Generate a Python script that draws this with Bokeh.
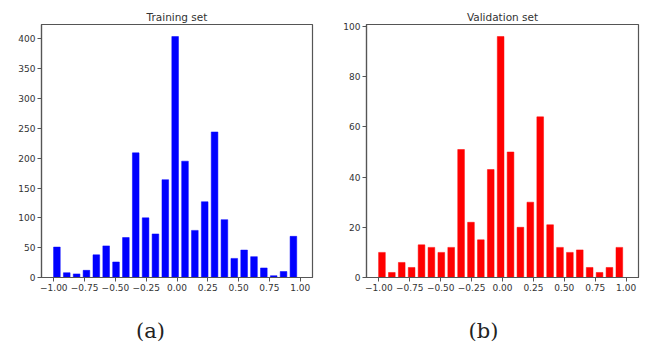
from bokeh.plotting import figure
from bokeh.layouts import column, row
from bokeh.models import Range1d, FixedTicker, ColumnDataSource
from bokeh.core.properties import value
from bokeh.embed import file_html
from bokeh.resources import INLINE

# ---- data ----
bin_centers = [-0.975, -0.895, -0.815, -0.735, -0.655, -0.575, -0.495, -0.415,
               -0.335, -0.255, -0.175, -0.095, -0.015, 0.065, 0.145, 0.225,
               0.305, 0.385, 0.465, 0.545, 0.625, 0.705, 0.785, 0.865, 0.945]
train_counts = [51, 8, 6, 12, 38, 53, 26, 67, 209, 100, 73, 164, 404, 195,
                79, 127, 244, 97, 32, 46, 35, 16, 3, 10, 69]
val_counts = [10, 2, 6, 4, 13, 12, 10, 12, 51, 22, 15, 43, 96, 50,
              20, 30, 64, 21, 12, 10, 11, 4, 2, 4, 12]
x_ticks = [-1.0, -0.75, -0.5, -0.25, 0.0, 0.25, 0.5, 0.75, 1.0]
x_tick_labels = ["\u22121.00", "\u22120.75", "\u22120.50", "\u22120.25", "0.00",
                 "0.25", "0.50", "0.75", "1.00"]
train_y_ticks = [0, 50, 100, 150, 200, 250, 300, 350, 400]
val_y_ticks = [0, 20, 40, 60, 80, 100]
titles = ["Training set", "Validation set"]
panel_labels = ["(a)", "(b)"]

BAR_W = 0.054
FONT = "DejaVu Sans"


def make_hist(title, counts, color, yticks, width, height, bl, br, bt, bb):
    src = ColumnDataSource(dict(x=bin_centers, top=counts))
    p = figure(width=width, height=height, output_backend="svg",
               toolbar_location=None, title=title,
               x_range=Range1d(-1.1, 1.1),
               y_range=Range1d(0, max(counts) * 1.05),
               min_border_left=bl, min_border_right=br,
               min_border_top=bt, min_border_bottom=bb)
    p.vbar(x="x", top="top", bottom=0, width=BAR_W, source=src,
           fill_color=color, line_color=color, line_width=0.5)
    p.title.align = "center"
    p.title.text_font = FONT
    p.title.text_font_size = "10.5px"
    p.title.text_font_style = "normal"
    p.title.text_color = "#333333"
    p.title.standoff = 4
    p.xgrid.visible = False
    p.ygrid.visible = False
    p.outline_line_color = "#555555"
    p.outline_line_width = 1.2
    p.background_fill_color = "white"
    p.border_fill_color = "white"
    for ax in (p.xaxis[0], p.yaxis[0]):
        ax.axis_line_color = "#555555"
        ax.axis_line_width = 1.2
        ax.major_tick_line_color = "#555555"
        ax.major_tick_out = 4
        ax.major_tick_in = 0
        ax.minor_tick_line_color = None
        ax.major_label_text_font = FONT
        ax.major_label_text_font_size = "9px"
        ax.major_label_text_color = "#333333"
        ax.major_label_standoff = 2
    p.xaxis[0].ticker = FixedTicker(ticks=x_ticks)
    p.xaxis[0].major_label_overrides = {t: l for t, l in zip(x_ticks, x_tick_labels)}
    p.yaxis[0].ticker = FixedTicker(ticks=yticks)
    return p


p1 = make_hist(titles[0], train_counts, "#0000ff", train_y_ticks, 323, 300, 41, 11, 23, 23)
p2 = make_hist(titles[1], val_counts, "#ff0000", val_y_ticks, 323, 300, 43, 8, 24, 23)

p3 = figure(width=646, height=51, output_backend="svg", toolbar_location=None,
            x_range=Range1d(0, 646), y_range=Range1d(0, 51),
            min_border=0, min_border_left=0, min_border_right=0,
            min_border_top=0, min_border_bottom=0)
p3.axis.visible = False
p3.grid.visible = False
p3.outline_line_color = None
p3.text(x=[150, 483], y=[21, 21], text=panel_labels,
        text_font=value("DejaVu Serif"), text_font_size="21px",
        text_align="center", text_baseline="middle", text_color="#222222")

layout = column(row(p1, p2, spacing=0), p3, spacing=0)
open("out.html", "w").write(file_html(layout, INLINE))
